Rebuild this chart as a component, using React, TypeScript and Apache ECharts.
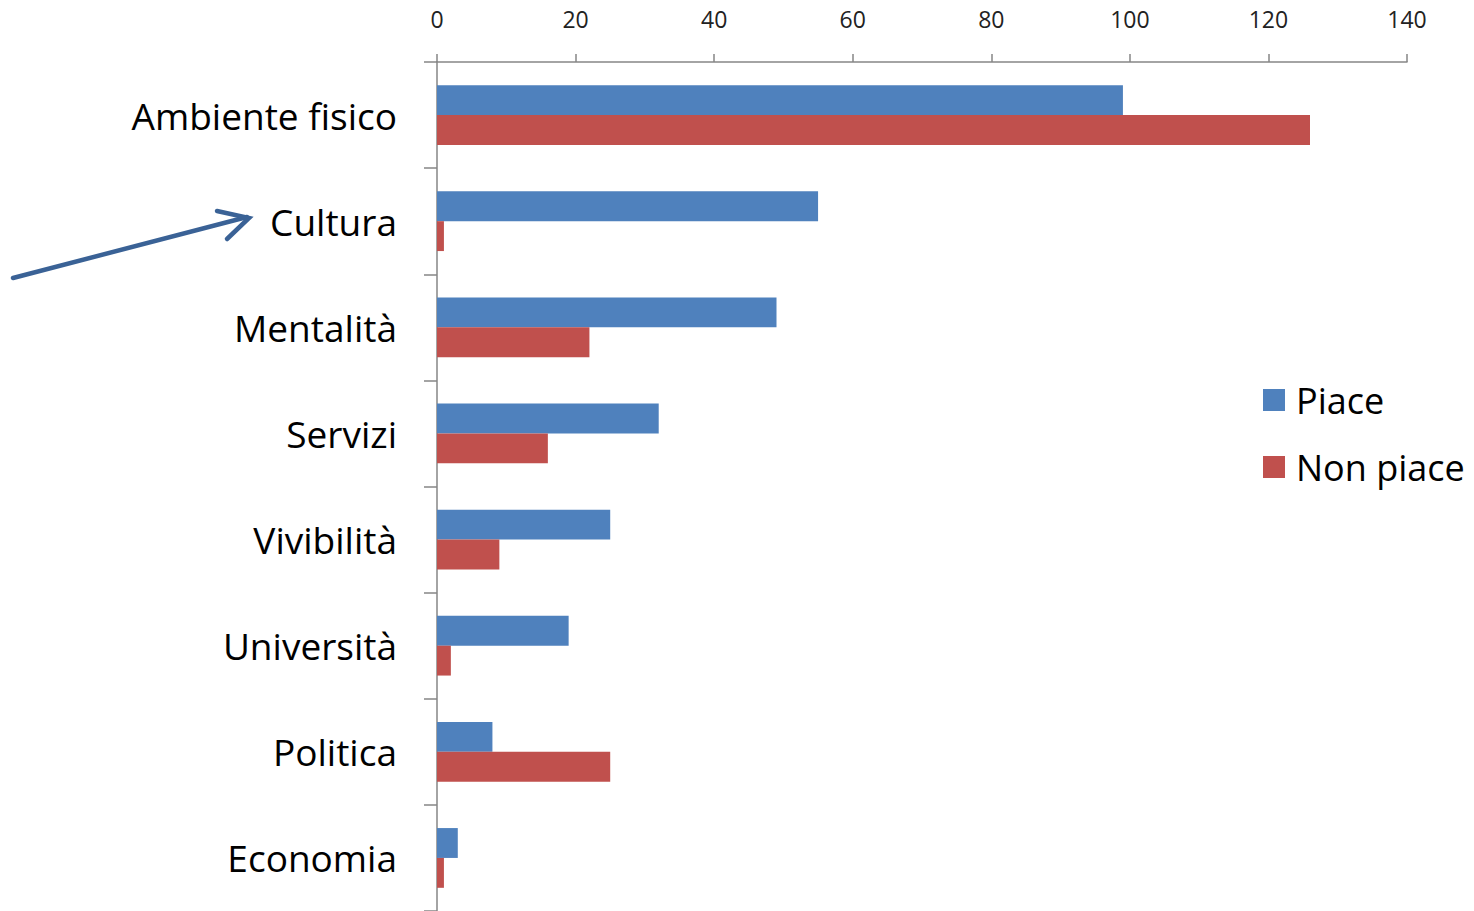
import React, { useEffect, useRef } from "react";
import * as echarts from "echarts";

const categories = ["Ambiente fisico", "Cultura", "Mentalità", "Servizi", "Vivibilità", "Università", "Politica", "Economia"];
const piace = [99, 55, 49, 32, 25, 19, 8, 3];
const nonPiace = [126, 1, 22, 16, 9, 2, 25, 1];
const seriesNames = ["Piace", "Non piace"];
const xTicks = { min: 0, max: 140, interval: 20 };

const FONT = "Open Sans";

export default function App() {
  const ref = useRef<HTMLDivElement>(null);
  useEffect(() => {
    const chart = echarts.init(ref.current!, null, { renderer: "svg" });
    chart.setOption({
      animation: false,
      backgroundColor: "#ffffff",
      textStyle: { fontFamily: FONT },
      grid: { left: 437, top: 62, width: 970, height: 852, containLabel: false },
      legend: {
        orient: "vertical",
        left: 1263,
        top: 382,
        padding: 0,
        itemWidth: 22,
        itemHeight: 22,
        itemGap: 31,
        icon: "rect",
        data: seriesNames,
        textStyle: { fontFamily: FONT, fontSize: 36, color: "#000", padding: [0, 0, 0, 6] },
      },
      xAxis: {
        type: "value",
        position: "top",
        min: xTicks.min,
        max: xTicks.max,
        interval: xTicks.interval,
        axisLine: { show: true, lineStyle: { color: "#868686", width: 1.5 } },
        axisTick: { show: true, length: 8, lineStyle: { color: "#868686", width: 1.5 } },
        splitLine: { show: false },
        axisLabel: { fontFamily: FONT, fontSize: 23, color: "#222", margin: 32 },
      },
      yAxis: {
        type: "category",
        data: categories,
        inverse: true,
        axisLine: { show: true, lineStyle: { color: "#868686", width: 1.5 } },
        axisTick: { show: true, length: 13, lineStyle: { color: "#868686", width: 1.5 } },
        axisLabel: { fontFamily: FONT, fontSize: 37, color: "#000", margin: 40, padding: [0, 0, 4, 0] },
      },
      series: [
        {
          name: seriesNames[0],
          type: "bar",
          data: piace,
          barGap: "0%",
          barCategoryGap: "43.7%",
          itemStyle: { color: "#4F81BD" },
        },
        {
          name: seriesNames[1],
          type: "bar",
          data: nonPiace,
          barGap: "0%",
          barCategoryGap: "43.7%",
          itemStyle: { color: "#C0504D" },
        },
      ],
      graphic: [
        {
          type: "line",
          shape: { x1: 13, y1: 278, x2: 247, y2: 217 },
          style: { stroke: "#3A6296", lineWidth: 4.5, lineCap: "round" },
        },
        {
          type: "polyline",
          shape: { points: [[217, 211], [249, 218], [227, 239]] },
          style: { stroke: "#3A6296", lineWidth: 4.5, lineCap: "round", lineJoin: "miter", fill: "none" },
        },
      ],
    });
    return () => chart.dispose();
  }, []);
  return (
    <div
      ref={ref}
      style={{ position: "fixed", left: 0, top: 0, width: 1474, height: 911, background: "#fff" }}
    />
  );
}
